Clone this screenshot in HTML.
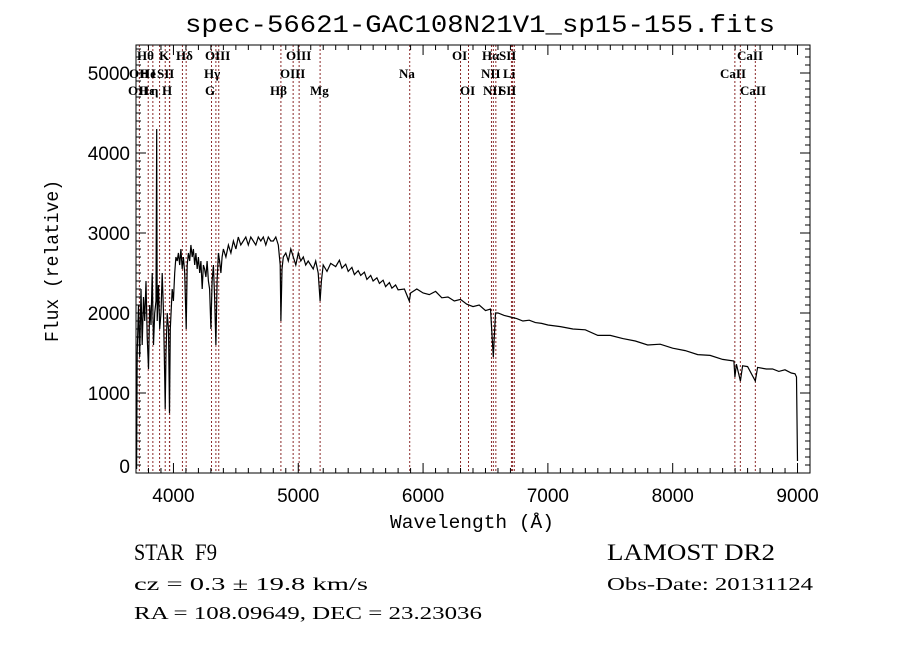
<!DOCTYPE html>
<html><head><meta charset="utf-8"><style>
body{margin:0;background:#fff;}
svg text{fill:#000;}
</style></head><body>
<svg id="chart" width="900" height="649" viewBox="0 0 900 649" xmlns="http://www.w3.org/2000/svg">
<rect width="900" height="649" fill="#fff"/>
<text x="185" y="32" font-family="Liberation Mono, monospace" font-size="25" textLength="590" lengthAdjust="spacingAndGlyphs">spec-56621-GAC108N21V1_sp15-155.fits</text>
<g id="lines"></g>
<g id="spec"></g>
<g id="axes"></g>
<text x="390" y="528" font-family="Liberation Mono, monospace" font-size="19" textLength="164" lengthAdjust="spacingAndGlyphs">Wavelength (Å)</text>
<text transform="translate(58,342) rotate(-90)" font-family="Liberation Mono, monospace" font-size="19" textLength="162" lengthAdjust="spacingAndGlyphs">Flux (relative)</text>
<text x="134" y="560" font-family="Liberation Serif, serif" font-size="23" textLength="50" lengthAdjust="spacingAndGlyphs">STAR</text>
<text x="195" y="560" font-family="Liberation Serif, serif" font-size="23" textLength="22" lengthAdjust="spacingAndGlyphs">F9</text>
<text x="134" y="590" font-family="Liberation Serif, serif" font-size="18" textLength="234" lengthAdjust="spacingAndGlyphs">cz = 0.3 ± 19.8 km/s</text>
<text x="134" y="619" font-family="Liberation Serif, serif" font-size="18" textLength="348" lengthAdjust="spacingAndGlyphs">RA = 108.09649, DEC =  23.23036</text>
<text x="607" y="560" font-family="Liberation Serif, serif" font-size="23" textLength="168" lengthAdjust="spacingAndGlyphs">LAMOST DR2</text>
<text x="607" y="590" font-family="Liberation Serif, serif" font-size="18" textLength="206" lengthAdjust="spacingAndGlyphs">Obs-Date: 20131124</text>
</svg>
<script>
const wave=[3705,3710,3720,3730,3740,3750,3760,3770,3780,3790,3800,3810,3820,3830,3840,3850,3860,3866,3870,3880,3890,3900,3910,3920,3930,3934,3940,3950,3960,3968,3975,3990,4000,4010,4020,4030,4040,4050,4060,4070,4080,4090,4102,4110,4120,4130,4140,4150,4160,4170,4180,4190,4200,4210,4220,4230,4240,4250,4260,4270,4280,4290,4300,4310,4320,4330,4340,4350,4360,4370,4380,4390,4400,4420,4440,4460,4480,4500,4520,4540,4560,4580,4600,4620,4640,4660,4680,4700,4720,4740,4760,4780,4800,4820,4840,4855,4861,4870,4880,4900,4920,4940,4960,4980,5000,5020,5040,5060,5080,5100,5120,5140,5160,5175,5185,5200,5230,5260,5300,5330,5350,5380,5400,5430,5450,5480,5500,5530,5550,5580,5600,5630,5650,5680,5700,5730,5750,5780,5800,5850,5890,5900,5950,6000,6050,6100,6150,6200,6250,6300,6350,6400,6450,6500,6540,6563,6580,6600,6650,6700,6750,6800,6850,6900,6950,7000,7100,7200,7300,7400,7500,7600,7700,7800,7900,8000,8100,8200,8300,8400,8490,8498,8510,8542,8560,8600,8662,8680,8750,8800,8850,8900,8950,8980,8992,9000];
const flux=[50,1500,2100,1450,2300,1600,2200,1900,2400,1700,1300,2100,1850,2500,1600,2000,2150,4300,1900,2350,1800,2000,2500,2000,1200,800,1500,2000,1800,750,1800,2300,2150,2500,2700,2650,2750,2600,2800,2550,2700,2500,1800,2600,2750,2650,2850,2700,2800,2600,2750,2550,2700,2500,2650,2300,2600,2550,2450,2650,2400,2300,1800,2400,2600,2200,1600,2400,2750,2650,2500,2700,2800,2700,2850,2750,2900,2800,2950,2850,2900,2950,2850,2950,2900,2850,2950,2900,2950,2850,2950,2900,2900,2950,2850,2600,1900,2550,2700,2750,2650,2800,2700,2600,2750,2650,2700,2600,2650,2600,2550,2650,2500,2150,2400,2600,
2520,2620,2580,2660,2560,2610,2520,2570,2480,2530,2470,2510,2420,2470,2400,2440,2370,2410,2330,2380,2310,2350,2290,
2300,2150,2250,2300,2250,
2230,2270,2190,2200,2150,2170,2110,2080,2100,2030,
2050,1450,2000,2000,
1970,1950,1930,1900,1910,1880,1870,1850,
1830,1800,1790,1720,1720,1680,1650,1600,1610,1560,1530,1480,1470,1420,
1400,1200,1360,1150,1340,1330,1150,1320,
1300,1300,1270,1290,1250,1240,1200,150];
const lineWaves=[3727,3798,3835,3889,3934,3968,3970,4072,4102,4305,4340,4363,4861,4959,5007,5175,5893,6300,6364,6548,6563,6583,6708,6717,6731,8498,8542,8662];
const lineLabels=[
 ["Hθ",137,60],["K",159,60],["Hδ",176,60],["OIII",205,60],["OIII",286,60],["OI",452,60],["Hα",482,60],["SII",499,60],["CaII",737,60],
 ["OII",129,78],["He",140,78],["I",151,78],["SII",157,78],["Hγ",204,78],["OIII",280,78],["Na",399,78],["NII",481,78],["Li",503,78],["CaII",720,78],
 ["OII",128,95],["Hε",139,95],["η",151,95],["H",162,95],["G",205,95],["Hβ",270,95],["Mg",310,95],["OI",460,95],["NII",483,95],["SII",499,95],["CaII",740,95]];
const xTicks=[4000,5000,6000,7000,8000,9000];
const yTicks=[0,1000,2000,3000,4000,5000];
const X0=136,X1=810,Y0=45,Y1=473,WMIN=3700,WMAX=9100,FMAX=5350;
const xs=w=>X0+(w-WMIN)/(WMAX-WMIN)*(X1-X0);
const ys=f=>Y1-f/FMAX*(Y1-Y0);
const NS="http://www.w3.org/2000/svg";
function mk(tag,attrs,parent){const e=document.createElementNS(NS,tag);for(const k in attrs)e.setAttribute(k,attrs[k]);parent.appendChild(e);return e;}
const lg=document.getElementById('lines');
lineWaves.forEach(w=>{const l=mk('line',{x1:xs(w),x2:xs(w),y1:Y0,y2:Y1,stroke:'#8b2a2a','stroke-width':1,'stroke-dasharray':'2,2'},lg);

});
lineLabels.forEach(a=>{const t=mk('text',{x:a[1],y:a[2],'font-family':'Liberation Serif, serif','font-size':13,'font-weight':'bold'},lg);t.textContent=a[0];

});
const sg=document.getElementById('spec');
const n=Math.min(wave.length,flux.length);
const pts=[];for(let i=0;i<n;i++)pts.push(xs(wave[i]).toFixed(1)+','+ys(flux[i]).toFixed(1));
const p=mk('polyline',{points:pts.join(' '),fill:'none',stroke:'#000','stroke-width':1.2},sg);


const ax=document.getElementById('axes');
const fr=mk('rect',{x:X0,y:Y0,width:X1-X0,height:Y1-Y0,fill:'none',stroke:'#000','stroke-width':1},ax);


for(let w=3700;w<=9100;w+=100){const maj=w%1000===0,L=maj?10:5;
 mk('line',{x1:xs(w),x2:xs(w),y1:Y1,y2:Y1-L,stroke:'#000'},ax);mk('line',{x1:xs(w),x2:xs(w),y1:Y0,y2:Y0+L,stroke:'#000'},ax);}
for(let f=0;f<=5300;f+=100){const maj=f%1000===0,L=maj?10:5;
 mk('line',{x1:X0,x2:X0+L,y1:ys(f),y2:ys(f),stroke:'#000'},ax);mk('line',{x1:X1,x2:X1-L,y1:ys(f),y2:ys(f),stroke:'#000'},ax);}
xTicks.forEach(v=>{const t=mk('text',{x:xs(v),y:502,'font-family':'Liberation Sans, sans-serif','font-size':19,'text-anchor':'middle'},ax);t.textContent=v;

});
yTicks.forEach(v=>{const t=mk('text',{x:130,y:Math.min(ys(v)+7,473),'font-family':'Liberation Sans, sans-serif','font-size':19,'text-anchor':'end'},ax);t.textContent=v;

});
</script>
</body></html>
